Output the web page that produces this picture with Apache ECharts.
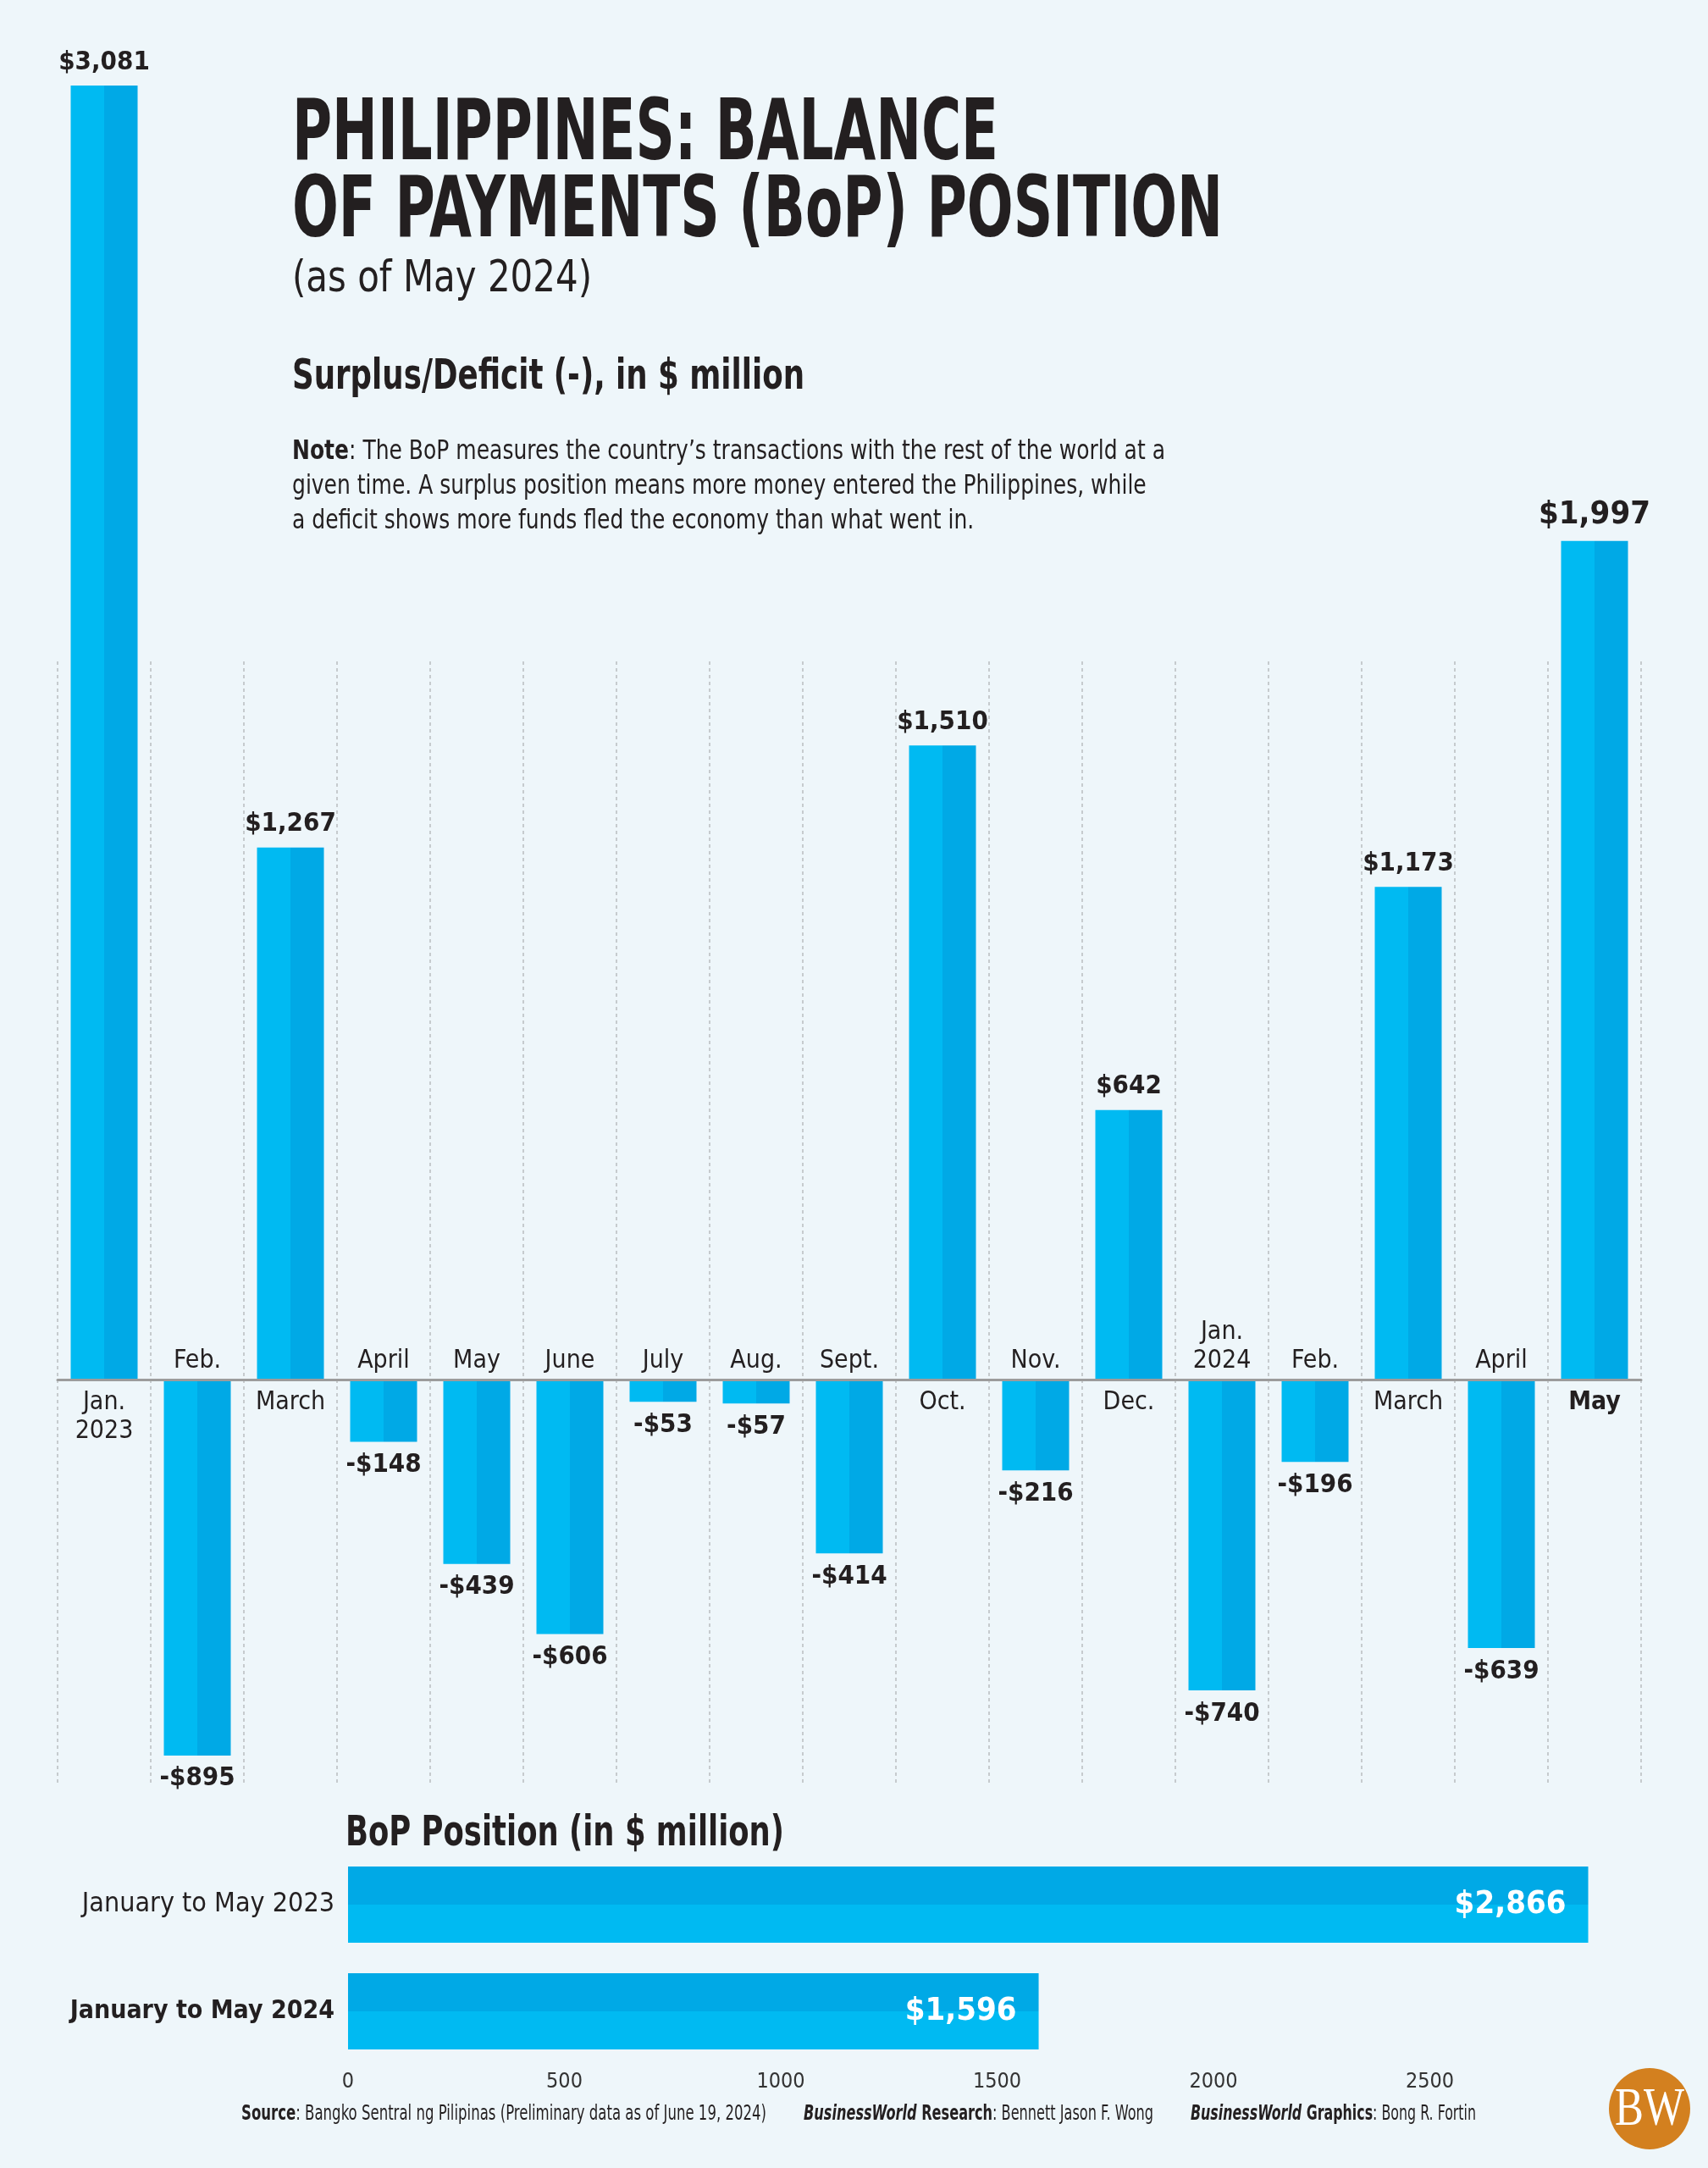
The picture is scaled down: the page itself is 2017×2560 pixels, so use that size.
<!DOCTYPE html>
<html>
<head>
<meta charset="utf-8">
<script src="https://cdn.jsdelivr.net/npm/echarts@6/dist/echarts.min.js"></script>
<style>
html,body{margin:0;padding:0;background:#EEF6FA;}
#c{width:2017px;height:2560px;}
</style>
</head>
<body>
<div id="c"></div>
<script>
// ---- data ----
const months = ['Jan.\n2023','Feb.','March','April','May','June','July','Aug.','Sept.','Oct.','Nov.','Dec.','Jan.\n2024','Feb.','March','April','May'];
const bop = [3081,-895,1267,-148,-439,-606,-53,-57,-414,1510,-216,642,-740,-196,1173,-639,1997];
const periods = ['January to May 2023','January to May 2024'];
const ytd = [2866,1596];
const ytdTickStep = 500;

// ---- styles ----
const FAM = '"Liberation Sans Narrow", "DejaVu Sans Condensed", "Liberation Sans", sans-serif';
const SERIF = '"Liberation Serif", "DejaVu Serif", serif';
const INK = '#231F20';
const LIGHT = '#00BAF2';
const DARK = '#00A9E6';
const BG = '#EEF6FA';

const mctx = document.createElement('canvas').getContext('2d');
function measure(segs){
  let w = 0;
  segs.forEach(s => {
    mctx.font = (s.it ? 'italic ' : '') + (s.w || 'normal') + ' ' + s.size + 'px ' + (s.fam || FAM);
    w += mctx.measureText(s.t).width;
  });
  return w;
}
function richText(segs, x, y, target, extraScale){
  const rich = {};
  let txt = '';
  segs.forEach((s, i) => {
    const k = 's' + i;
    rich[k] = {fontSize: s.size, fontFamily: s.fam || FAM, fontWeight: s.w || 'normal', fontStyle: s.it ? 'italic' : 'normal', fill: s.color || INK};
    txt += '{' + k + '|' + s.t + '}';
  });
  const sx = extraScale || (target / measure(segs));
  return {type: 'text', x: x, y: y, scaleX: sx, silent: true,
    style: {text: txt, rich: rich, fill: INK, verticalAlign: 'middle', align: 'left',
      fontSize: segs[0].size, fontFamily: FAM}};
}
function fmt(v){ return (v < 0 ? '-' : '') + '$' + Math.abs(v).toLocaleString('en-US'); }

const cats = bop.map((v, i) => i);
const last = bop.length - 1;

const valueData = bop.map((v, i) => ({
  value: v,
  label: {
    position: v >= 0 ? 'top' : 'bottom',
    fontSize: i === last ? 38 : 31,
    fontWeight: 'bold'
  }
}));
const monthData = bop.map((v, i) => ({
  value: v,
  label: {
    position: v >= 0 ? 'bottom' : 'top',
    distance: v >= 0 ? 10 : 5,
    fontWeight: i === last ? 'bold' : 'normal'
  }
}));

const noteSize = 32;
const noteLine1 = [{t:'Note', w:'bold', size:noteSize},{t:': The BoP measures the country\u2019s transactions with the rest of the world at a', size:noteSize}];
const noteScale = 1031 / measure(noteLine1);

const graphics = [
  richText([{t:'PHILIPPINES: BALANCE', w:'bold', size:100}], 345, 162, 834),
  richText([{t:'OF PAYMENTS (BoP) POSITION', w:'bold', size:100}], 345, 253, 1099),
  richText([{t:'(as of May 2024)', size:52}], 345, 330, 354),
  richText([{t:'Surplus/Deficit (-), in $ million', w:'bold', size:50}], 345, 446, 605),
  richText(noteLine1, 345, 534, 0, noteScale),
  richText([{t:'given time. A surplus position means more money entered the Philippines, while', size:noteSize}], 345, 575, 0, noteScale),
  richText([{t:'a deficit shows more funds fled the economy than what went in.', size:noteSize}], 345, 616, 0, noteScale),
  richText([{t:'BoP Position (in $ million)', w:'bold', size:50}], 408, 2166, 518),
  richText([{t:'Source', w:'bold', size:24},{t:': Bangko Sentral ng Pilipinas (Preliminary data as of June 19, 2024)', size:24}], 285, 2497, 620),
  richText([{t:'BusinessWorld', w:'bold', it:true, size:24},{t:' Research', w:'bold', size:24},{t:': Bennett Jason F. Wong', size:24}], 949, 2497, 413),
  richText([{t:'BusinessWorld', w:'bold', it:true, size:24},{t:' Graphics', w:'bold', size:24},{t:': Bong R. Fortin', size:24}], 1406, 2497, 337),
  {type:'circle', shape:{cx:1948, cy:2490, r:48}, style:{fill:'#D3801F'}, silent:true},
  (function(){
    const sx = 82 / measure([{t:'BW', size:64, fam:SERIF}]);
    return {type:'text', x:1948, y:2492, scaleX:sx, silent:true,
      style:{text:'BW', fontFamily:SERIF, fontSize:64, fill:'#fff', align:'center', verticalAlign:'middle'}};
  })()
];

const chart = echarts.init(document.getElementById('c'), null, {renderer:'canvas'});
const barGrad = {type:'linear', x:0, y:0, x2:1, y2:0, colorStops:[
  {offset:0, color:LIGHT},{offset:0.5, color:LIGHT},{offset:0.5, color:DARK},{offset:1, color:DARK}]};
const hGrad = {type:'linear', x:0, y:0, x2:0, y2:1, colorStops:[
  {offset:0, color:DARK},{offset:0.5, color:DARK},{offset:0.5, color:LIGHT},{offset:1, color:LIGHT}]};

chart.setOption({
  backgroundColor: BG,
  animation: false,
  textStyle: {fontFamily: FAM},
  grid: [
    {left:68, right:79, top:42, bottom:435},   // monthly bars
    {left:68, right:79, top:781, bottom:453},  // dotted dividers
    {left:411, right:73, top:2186, bottom:122} // year-to-date bars
  ],
  xAxis: [
    {type:'category', gridIndex:0, data:cats, boundaryGap:true,
     axisLine:{show:true, onZero:true, lineStyle:{color:'#9C9C9C', width:3}},
     axisTick:{show:false}, axisLabel:{show:false}, splitLine:{show:false}, z:3},
    {type:'category', gridIndex:1, data:cats, boundaryGap:true,
     axisLine:{show:false}, axisTick:{show:false}, axisLabel:{show:false},
     splitLine:{show:true, interval:0, lineStyle:{color:'#B9BDC0', width:1.5, type:[4,4]}}},
    {type:'value', gridIndex:2, min:0, max:3000, interval:ytdTickStep,
     axisLine:{show:false}, axisTick:{show:false}, splitLine:{show:false},
     axisLabel:{show:true, showMaxLabel:false, fontSize:25, color:'#333', margin:8, fontFamily:FAM,
       formatter:(v) => String(v)}}
  ],
  yAxis: [
    {type:'value', gridIndex:0, min:-1000, max:3200, show:false, splitLine:{show:false}},
    {type:'value', gridIndex:1, min:0, max:1, show:false, splitLine:{show:false}},
    {type:'category', gridIndex:2, data:periods, inverse:true,
     axisLine:{show:false}, axisTick:{show:false},
     axisLabel:{show:true, margin:16, color:INK, fontFamily:FAM, fontSize:32,
       formatter:(v) => v === periods[1] ? '{b|' + v + '}' : '{n|' + v + '}',
       rich:{b:{fontWeight:'bold', fontSize:30, color:INK, fontFamily:FAM},
             n:{fontWeight:'normal', fontSize:32, color:INK, fontFamily:FAM}}}}
  ],
  series: [
    {type:'bar', name:'BoP', xAxisIndex:0, yAxisIndex:0, data:valueData, barWidth:79, z:2,
     itemStyle:{color:barGrad},
     label:{show:true, distance:12, color:INK, fontFamily:FAM, formatter:(p) => fmt(p.value)},
     emphasis:{disabled:true}, silent:true},
    {type:'bar', name:'month', xAxisIndex:0, yAxisIndex:0, data:monthData, barWidth:79, barGap:'-100%', z:4,
     itemStyle:{color:'rgba(0,0,0,0)'},
     label:{show:true, color:INK, fontFamily:FAM, fontSize:30, lineHeight:34,
       formatter:(p) => months[p.dataIndex]},
     emphasis:{disabled:true}, silent:true},
    {type:'bar', name:'YTD', xAxisIndex:2, yAxisIndex:2, data:ytd, barWidth:90,
     itemStyle:{color:hGrad},
     label:{show:true, position:'insideRight', distance:26, color:'#fff', fontFamily:FAM,
       fontWeight:'bold', fontSize:38, formatter:(p) => fmt(p.value)},
     emphasis:{disabled:true}, silent:true}
  ],
  graphic: graphics
});
</script>
</body>
</html>
